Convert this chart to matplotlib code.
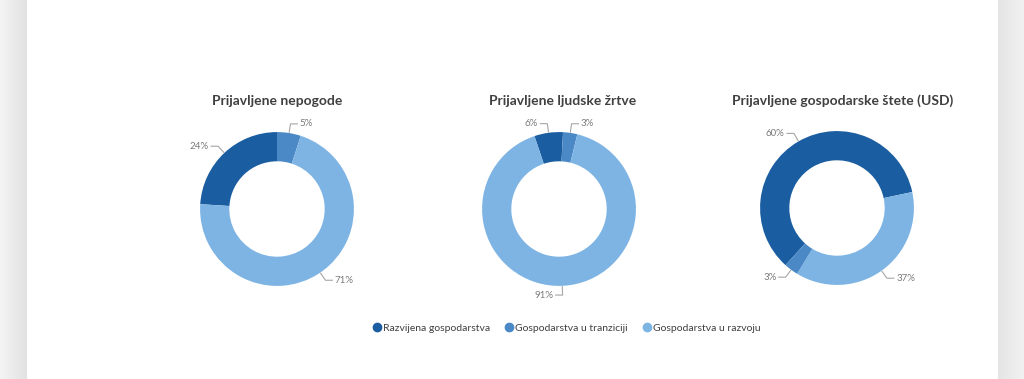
import numpy as np
import matplotlib.pyplot as plt
from matplotlib.lines import Line2D

plt.rcParams['font.family'] = ['Lato', 'DejaVu Sans']

# data
categories = ['Razvijena gospodarstva', 'Gospodarstva u tranziciji', 'Gospodarstva u razvoju']
titles = ['Prijavljene nepogode', 'Prijavljene ljudske žrtve', 'Prijavljene gospodarske štete (USD)']
nepogode = [24, 5, 71]
zrtve = [6, 3, 91]
stete = [60, 3, 37]

colors = ['#1a5da0', '#4a88c6', '#7eb4e4']

# per-chart layout: center in px, start angle, order of wedges clockwise
charts = [
    (nepogode, (277, 209), 176.4, [0, 1, 2]),
    (zrtve, (559, 209), 108.6, [0, 1, 2]),
    (stete, (837, 208), -132.0, [0, 2, 1]),
]
title_x = [277, 563, 843]

W, H = 1024, 379
fig = plt.figure(figsize=(W / 100, H / 100), dpi=100)
fig.patch.set_facecolor('white')

# grey side strips
for x0, x1, c0, c1 in [(0, 27, 0.955, 0.885), (998, 1024, 0.895, 0.945)]:
    bx = fig.add_axes([x0 / W, 0, (x1 - x0) / W, 1])
    grad = np.linspace(c0, c1, 50)[None, :]
    bx.imshow(grad, aspect='auto', cmap='gray', vmin=0, vmax=1, extent=[0, 1, 0, 1])
    bx.axis('off')

S = 200  # axes size in px
for i, (vals, (cx, cy), start, order) in enumerate(charts):
    ax = fig.add_axes([(cx - S / 2) / W, (H - cy - S / 2) / H, S / W, S / H])
    v = [vals[k] for k in order]
    c = [colors[k] for k in order]
    wedges, _ = ax.pie(v, colors=c, startangle=start, counterclock=False,
                       radius=1.0, wedgeprops=dict(width=0.38, linewidth=0))
    for w, val in zip(wedges, v):
        mid = np.deg2rad((w.theta1 + w.theta2) / 2)
        ca, sa = np.cos(mid), np.sin(mid)
        side = 1 if ca > 0.1 else -1
        p0 = (1.01 * ca, 1.01 * sa)
        p1 = (1.12 * ca, 1.12 * sa)
        p2 = (p1[0] + side * 0.09, p1[1])
        ax.plot([p0[0], p1[0], p2[0]], [p0[1], p1[1], p2[1]],
                color='#a6a6a6', lw=0.8, clip_on=False)
        ax.text(p2[0] + side * 0.03, p2[1], f'{val}%', fontsize=7,
                color='#7a7a7a', ha='left' if side > 0 else 'right', va='center')
    ax.set_xlim(-1.3, 1.3)
    ax.set_ylim(-1.3, 1.3)
    ax.set_aspect('equal')
    ax.axis('off')
    fig.text(title_x[i] / W, 1 - 101 / H, titles[i], fontsize=10, fontweight='bold',
             color='#404040', ha='center', va='center')

handles = [Line2D([], [], marker='o', linestyle='', markersize=6, color=col) for col in colors]
fig.legend(handles, categories, loc='center', bbox_to_anchor=(567 / W, 1 - 328 / H),
           ncol=3, frameon=False, fontsize=7.5, handlelength=0.6, handletextpad=0.3,
           columnspacing=1.5, labelcolor='#404040')

plt.savefig('out.png', dpi=100)
